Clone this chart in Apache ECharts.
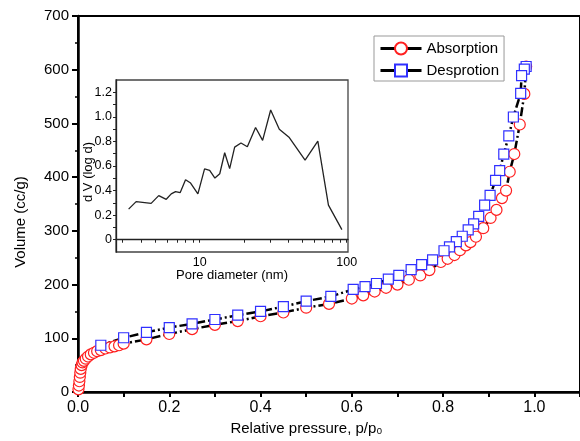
<!DOCTYPE html>
<html>
<head>
<meta charset="utf-8">
<script src="https://cdn.jsdelivr.net/npm/echarts@6/dist/echarts.min.js"></script>
<style>
html,body{margin:0;padding:0;background:#fff;}
#chart{width:580px;height:441px;}
</style>
</head>
<body>
<div id="chart"></div>
<script>
// Adsorption branch (relative pressure, volume cc/g)
var adsX = [0.001,0.002,0.003,0.004,0.005,0.006,0.008,0.010,0.013,0.017,0.022,0.028,0.035,0.042,0.050,0.060,0.070,0.080,0.090,0.100,
            0.150,0.200,0.250,0.300,0.350,0.400,0.450,0.500,0.550,0.600,0.625,0.650,0.675,0.700,0.725,0.750,0.770,0.795,0.810,0.825,
            0.837,0.850,0.860,0.872,0.888,0.904,0.917,0.929,0.938,0.946,0.956,0.968,0.978,0.982];
var adsY = [5,12,20,28,36,43,50,55,58,62,66,70,73,76,78,81,83,85,87,90,
            98,108,117,125,132,141,148,157,164,174,180,187,194,200,209,217,227,242,248,255,
            264,273,279,289,305,324,339,361,375,410,443,498,555,606];
// Desorption branch
var desX = [0.982,0.978,0.972,0.970,0.954,0.944,0.933,0.924,0.915,0.903,0.891,0.878,0.867,0.855,0.842,0.829,0.814,0.802,
            0.777,0.753,0.730,0.703,0.680,0.654,0.629,0.603,0.554,0.500,0.450,0.400,0.350,0.300,0.250,0.200,0.150,0.100,0.050];
var desY = [606,601,589,556,512,477,443,412,394,366,348,327,313,302,290,280,270,263,
            246,237,228,217,210,202,196,191,178,169,159,150,143,135,127,120,111,101,87];
// Inset: pore size distribution
var poreD = [3.29,3.70,4.68,5.27,5.93,6.41,6.86,7.38,8.02,8.68,9.73,10.8,11.7,12.7,13.7,14.8,16.0,17.3,19.1,21.1,24.0,26.8,30.4,34.8,40.7,52.1,63.6,75.1,92.7];
var poreV = [0.249,0.31,0.296,0.359,0.329,0.373,0.392,0.384,0.488,0.461,0.373,0.576,0.565,0.502,0.537,0.708,0.579,0.754,0.787,0.757,0.913,0.809,1.056,0.90,0.831,0.647,0.803,0.282,0.082];
// Tick values
var insetTickVals = [3,4,5,6,7,8,9,10,20,30,40,50,60,70,80,90,100];
var insetLabelVals = [10,100];

function zip(a,b){var r=[];for(var i=0;i<a.length;i++){r.push([a[i],b[i]]);}return r;}
var adsData = zip(adsX, adsY);
var desData = zip(desX, desY);
var poreData = zip(poreD, poreV);

var FONT = "'Liberation Sans', Arial, Helvetica, sans-serif";
var chart = echarts.init(document.getElementById('chart'), null, {renderer:'canvas'});
var dash = [9,3,2,3];
chart.setOption({
  animation:false,
  backgroundColor:'#fff',
  textStyle:{fontFamily:FONT},
  grid:[
    {left:78, top:16, width:509, height:379, show:true, borderColor:'#000', borderWidth:2, backgroundColor:'transparent'},
    {left:116, top:80, width:232, height:172, show:true, borderColor:'#444', borderWidth:1.3, backgroundColor:'#fff'}
  ],
  legend:{
    data:['Absorption','Desprotion'],
    orient:'vertical', left:374, top:36,
    itemWidth:41, itemHeight:15, itemGap:7,
    padding:[5,5,3,5],
    borderColor:'#999', borderWidth:1, backgroundColor:'#fff',
    textStyle:{fontSize:15, color:'#000', fontFamily:FONT},
    lineStyle:{color:'#000', width:3, type:'solid', opacity:1}
  },
  xAxis:[
    {type:'value', gridIndex:0, min:0, max:1.1, interval:0.2,
     axisLine:{lineStyle:{color:'#000', width:2.5}},
     axisTick:{length:5, lineStyle:{color:'#000', width:2}},
     minorTick:{show:true, splitNumber:2, length:5, lineStyle:{color:'#000', width:2}},
     splitLine:{show:false},
     axisLabel:{fontSize:16, color:'#000', margin:8, showMaxLabel:false, fontFamily:FONT,
       formatter:function(v){return v.toFixed(1);}},
     name:'Relative pressure, p/p\u2080', nameLocation:'middle', nameGap:29, nameMoveOverlap:false,
     nameTextStyle:{fontSize:15, color:'#000', padding:[0,45,0,0], fontFamily:FONT}},
    {type:'log', gridIndex:1, min:2.7, max:102, logBase:10,
     axisLine:{lineStyle:{color:'#222', width:1.3}},
     axisTick:{length:3, customValues:insetTickVals, lineStyle:{color:'#222', width:1}},
     splitLine:{show:false},
     axisLabel:{fontSize:12.5, color:'#000', margin:4, customValues:insetLabelVals, fontFamily:FONT,
       formatter:function(v){return String(Math.round(v));}},
     name:'Pore diameter (nm)', nameLocation:'middle', nameGap:17, nameMoveOverlap:false,
     nameTextStyle:{fontSize:13, color:'#000', fontFamily:FONT}}
  ],
  yAxis:[
    {type:'value', gridIndex:0, min:0, max:700, interval:100,
     axisLine:{show:true, lineStyle:{color:'#000', width:2.5}},
     axisTick:{show:true, length:6, lineStyle:{color:'#000', width:2}},
     minorTick:{show:true, splitNumber:2, length:3, lineStyle:{color:'#000', width:1.5}},
     splitLine:{show:false},
     axisLabel:{fontSize:15, color:'#000', margin:9, fontFamily:FONT},
     name:'Volume (cc/g)', nameLocation:'middle', nameGap:50, nameMoveOverlap:false,
     nameTextStyle:{fontSize:15, color:'#000', padding:[0,36,0,0], fontFamily:FONT}},
    {type:'value', gridIndex:1, min:-0.1, max:1.3, interval:0.1,
     axisLine:{show:true, lineStyle:{color:'#222', width:1.3}},
     axisTick:{show:true, length:3, lineStyle:{color:'#222', width:1}},
     splitLine:{show:false},
     axisLabel:{fontSize:12.5, color:'#000', margin:4, fontFamily:FONT, showMinLabel:false, showMaxLabel:false,
       formatter:function(v){var k=Math.round(v*10); if(k<0||k>12||k%2!==0) return ''; return k===0?'0':(k/10).toFixed(1);}},
     name:'d V (log d)', nameLocation:'middle', nameGap:21, nameMoveOverlap:false,
     nameTextStyle:{fontSize:13, color:'#000', padding:[0,12,0,0], fontFamily:FONT}}
  ],
  series:[
    {name:'adsLine', type:'line', xAxisIndex:0, yAxisIndex:0, data:adsData, showSymbol:false, z:1,
     lineStyle:{color:'#000', width:2.5, type:dash}, silent:true},
    {name:'desLine', type:'line', xAxisIndex:0, yAxisIndex:0, data:desData, showSymbol:false, z:1,
     lineStyle:{color:'#000', width:2.5, type:dash}, silent:true},
    {name:'Absorption', type:'line', xAxisIndex:0, yAxisIndex:0, data:adsData, z:2,
     symbol:'circle', symbolSize:11, showSymbol:true,
     itemStyle:{color:'#fff', borderColor:'#ff2020', borderWidth:1.2},
     lineStyle:{color:'#000', width:3, opacity:0}},
    {name:'Desprotion', type:'line', xAxisIndex:0, yAxisIndex:0, data:desData, z:3,
     symbol:'rect', symbolSize:10, showSymbol:true,
     itemStyle:{color:'#fff', borderColor:'#3030ff', borderWidth:1.2},
     lineStyle:{color:'#000', width:3, opacity:0}},
    {name:'pore', type:'line', xAxisIndex:1, yAxisIndex:1, data:poreData, showSymbol:false, z:4,
     lineStyle:{color:'#222', width:1.3}}
  ]
});
</script>
</body>
</html>
